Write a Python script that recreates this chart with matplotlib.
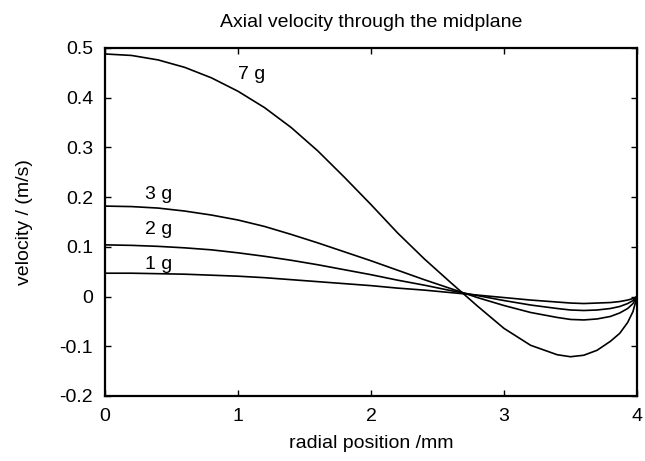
import matplotlib
matplotlib.use("Agg")
import matplotlib.pyplot as plt

plt.rcParams['font.family'] = ['Liberation Sans', 'DejaVu Sans']

radius = [0, 0.2, 0.4, 0.6, 0.8, 1.0, 1.2, 1.4, 1.6, 1.8, 2.0, 2.2, 2.4,
          2.6, 2.8, 3.0, 3.2, 3.4, 3.5, 3.6, 3.7, 3.8, 3.87, 3.93, 3.97, 4.0]
vel_7g = [0.488, 0.485, 0.476, 0.461, 0.440, 0.413, 0.380, 0.340, 0.293,
          0.240, 0.185, 0.128, 0.076, 0.028, -0.019, -0.064, -0.098, -0.117,
          -0.121, -0.118, -0.108, -0.090, -0.074, -0.052, -0.030, 0.0]
vel_3g = [0.182, 0.181, 0.178, 0.172, 0.164, 0.154, 0.141, 0.125, 0.108,
          0.090, 0.072, 0.053, 0.034, 0.016, -0.002, -0.018, -0.032, -0.042,
          -0.046, -0.047, -0.045, -0.040, -0.033, -0.024, -0.014, 0.0]
vel_2g = [0.104, 0.103, 0.101, 0.098, 0.094, 0.088, 0.081, 0.073, 0.064,
          0.054, 0.044, 0.033, 0.023, 0.012, 0.002, -0.008, -0.017, -0.024,
          -0.027, -0.028, -0.027, -0.024, -0.020, -0.014, -0.008, 0.0]
vel_1g = [0.047, 0.047, 0.046, 0.045, 0.043, 0.041, 0.038, 0.034, 0.030,
          0.026, 0.022, 0.017, 0.013, 0.008, 0.003, -0.002, -0.007, -0.011,
          -0.013, -0.014, -0.013, -0.012, -0.010, -0.007, -0.004, 0.0]

series = [("7 g", vel_7g, 1.10, 0.447),
          ("3 g", vel_3g, 0.40, 0.205),
          ("2 g", vel_2g, 0.40, 0.135),
          ("1 g", vel_1g, 0.40, 0.065)]

x_ticks = [0, 1, 2, 3, 4]
x_tick_labels = ["0", "1", "2", "3", "4"]
y_ticks = [-0.2, -0.1, 0, 0.1, 0.2, 0.3, 0.4, 0.5]
y_tick_labels = ["-0.2", "-0.1", "0", "0.1", "0.2", "0.3", "0.4", "0.5"]

FS = 14

fig = plt.figure(figsize=(6.45, 4.61), dpi=100)
ax = fig.add_axes([105/645, 1-396/461, (637-105)/645, (396-48)/461])

for label, vals, lx, ly in series:
    ax.plot(radius, vals, color='black', lw=1.2)
    ax.text(lx, ly, label, ha='center', va='center', fontsize=FS)

ax.set_xlim(0, 4)
ax.set_ylim(-0.2, 0.5)
ax.set_xticks(x_ticks)
ax.set_xticklabels(x_tick_labels)
ax.set_yticks(y_ticks)
ax.set_yticklabels(y_tick_labels)
ax.tick_params(direction='in', length=4.5, width=1.0, top=True, right=True,
               labelsize=FS, pad=8.5)
for s in ax.spines.values():
    s.set_linewidth(1.6)

ax.set_title("Axial velocity through the midplane", fontsize=FS, pad=15)
ax.set_xlabel("radial position /mm", fontsize=FS, labelpad=7)
ax.set_ylabel("velocity / (m/s)", fontsize=FS, labelpad=19)

fig.savefig("out.png", dpi=100)
